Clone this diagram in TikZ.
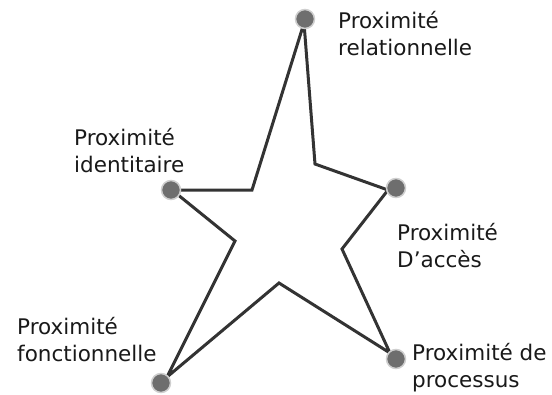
\documentclass[tikz,border=0pt]{standalone}
\usepackage{fontspec}
\setmainfont{DejaVu Sans}
\definecolor{edgecol}{HTML}{333333}
\definecolor{dotfill}{HTML}{6E6E6E}
\definecolor{dotring}{HTML}{CFCFCF}
\begin{document}
\begin{tikzpicture}[x=1pt,y=-1pt,
  dot/.style={circle,fill=dotfill,draw=dotring,line width=1.5pt,minimum size=19pt,inner sep=0pt},
  starline/.style={draw=edgecol,line width=3pt,line join=miter},
  lab/.style={anchor=base west,align=left,inner sep=0pt,font=\fontsize{21.5}{27}\selectfont,text=black!90}]
\useasboundingbox (0,0) rectangle (552,394);
% star vertices
\coordinate (t1) at (304,23);
\coordinate (i1) at (315,164);
\coordinate (t2) at (388,190);
\coordinate (i2) at (342,249);
\coordinate (t3) at (390,353);
\coordinate (i3) at (279,283);
\coordinate (t4) at (167,377);
\coordinate (i4) at (235,241);
\coordinate (t5) at (172,190);
\coordinate (i5) at (252,190);
\draw[starline] (t1) -- (i1) -- (t2) -- (i2) -- (t3) -- (i3) -- (t4) -- (i4) -- (t5) -- (i5) -- cycle;
% dots
\node[dot] (d1) at (305,19) {};
\node[dot] (d2) at (396,188) {};
\node[dot] (d3) at (396,359) {};
\node[dot] (d4) at (161,383) {};
\node[dot] (d5) at (171,190) {};
% labels (anchored at baseline of last line)
\node[lab] (l1) at (338,55) {Proximité\\relationnelle};
\node[lab] (l5) at (74,172) {Proximité\\identitaire};
\node[lab] (l2) at (397,267) {Proximité\\D’accès};
\node[lab] (l4) at (17,361) {Proximité\\fonctionnelle};
\node[lab] (l3) at (412,387) {Proximité de\\processus};
\end{tikzpicture}
\end{document}
